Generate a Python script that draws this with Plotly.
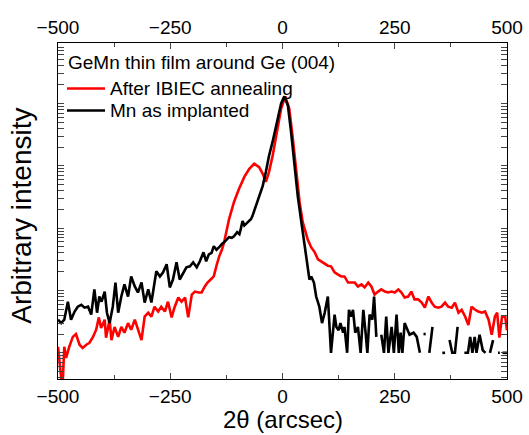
import plotly.graph_objects as go

# ---- data (2theta in arcsec, intensity in counts) ----
red_x = [-500, -493, -489, -486, -482, -475, -467, -460, -452, -445, -437, -430, -422, -415, -409, -404,
         -396, -393, -385, -381, -374, -366, -359, -352, -344, -337, -329, -322, -314, -307, -299, -292,
         -285, -277, -270, -262, -255, -247, -240, -232, -225, -217, -210, -202, -195, -187, -180, -173,
         -167, -160, -153, -147, -141, -135, -130, -119, -108, -97, -85, -74, -63, -52, -44, -37, -30,
         -22, -12, -3, 6, 15, 23, 30, 38, 45, 56, 64, 71, 79, 85, 94, 101, 108, 116, 123, 131, 138, 146,
         153, 161, 168, 176, 183, 191, 198, 205, 213, 220, 228, 235, 243, 250, 258, 265, 272, 280, 287,
         294, 302, 310, 317, 325, 332, 339, 347, 354, 362, 369, 377, 384, 392, 399, 407, 414, 421, 429,
         436, 444, 451, 459, 466, 473, 478, 483, 489, 496, 500]
red_y = [12.5, 4, 4, 12.5, 8.3, 12.5, 18, 20, 13.5, 12, 13.5, 14.5, 18, 23.5, 37, 25,
         34, 17.5, 34, 16, 26, 18, 26, 21, 30, 23.5, 34, 23.5, 16, 38, 44, 38,
         55, 46, 55, 46, 66, 37, 55, 77, 66, 77, 37, 86, 96, 93, 93, 116,
         134, 150, 168, 250, 353, 450, 594, 1400, 2630, 4250, 6650, 8950, 10800, 9500, 7430, 5520, 8000,
         14500, 35300, 83000, 130000, 83000, 27200, 8000, 2630, 1250, 665, 490, 420, 316, 294, 263, 250,
         244, 195, 181, 168, 168, 134,
         134, 134, 116, 125, 112, 134, 116, 86, 96, 104, 96, 93, 96, 93, 104, 93, 77, 80, 96,
         72, 72, 64, 53, 80, 64, 55, 53, 55, 64, 55, 53, 64, 44, 49, 38, 28, 55, 49,
         46, 44, 46, 34, 19.5, 38, 44, 17.5, 38, 38, 23]

blk_x = [-500, -493, -486, -478, -471, -463, -456, -448, -441, -433, -426, -419, -413, -408, -403, -396,
         -391, -385, -378, -372, -366, -359, -352, -344, -337, -329, -322, -314, -307, -299, -292, -285,
         -281, -273, -266, -258, -251, -244, -236, -229, -221, -214, -206, -199, -191, -184, -176, -170,
         -164, -158, -153, -147, -141, -135, -130, -124, -119, -113, -108, -101, -96, -93, -89, -85, -82,
         -78, -74, -70, -67, -59, -52, -44, -37, -30, -22, -12, -3, 4, 12, 19, 27, 34, 42, 49, 55, 60,
         64, 70, 75, 82, 88, 94, 101, 108, 116, 120, 125, 129, 135, 138, 144, 148, 153, 157, 162, 168,
         174, 180, 185, 189, 194, 200, 204, 209, 214, 220, 226, 231, 236, 243, 248, 254, 259, 263, 267,
         272, 278, 283, 292, 299, 306, 310, 314, 319, 323, 327, 334, 338, 356, 362, 366, 372, 378, 384,
         390, 394, 405, 413, 418, 423, 428, 432, 439, 446, 452, 456, 462, 469, 473, 480, 484, 487, 490, 500]
blk_y = [34, 30, 34, 66, 34, 46, 55, 59, 53, 55, 41, 104, 44, 80, 66, 96,
         44, 30, 55, 134, 44, 80, 125, 80, 168, 116, 93, 134, 64, 104, 64, 150,
         203, 168, 195, 263, 112, 150, 283, 150, 195, 235, 244, 283, 235, 294, 410, 294,
         380, 400, 512, 450, 494, 560, 594, 650, 716, 700, 743, 861, 800, 964, 1300, 1100, 1160,
         1250, 1300, 1400, 1560, 2260, 3280, 4760, 8000, 14500, 24400, 51300, 100000, 130000, 93000,
         35300, 10000, 3280, 1250, 512, 244, 150,
         168, 134, 80, 55, 30, 44, 80, 10, 41, 26, 23, 30, 21, 26, 10, 49, 38, 49, 21, 26,
         10, 49, 21, 10, 41, 34, 80, 18, None, 19.5, 10, 38, 10, 26, 10, 41, 10, 21, 10,
         30, 23, 19.5, 21, 18, 10, None, 20, 20, None, 10, 26, None, 10, 10, None, 16, 10, 10,
         26, None, 10, 10, 18, 10, 18, 10, 19.5, 11, 10, None, 10, 16, None, 10, 10, None, 10, 10]

x_ticks = [-500, -250, 0, 250, 500]
legend_title = "GeMn thin film around Ge (004)"
red_name = "After IBIEC annealing"
blk_name = "Mn as implanted"

FONT = "Arial, Liberation Sans, sans-serif"
RED = "#ff0000"

fig = go.Figure()
fig.add_trace(go.Scatter(x=red_x, y=red_y, mode="lines", name=red_name,
                         line=dict(color=RED, width=2.6), showlegend=False))
fig.add_trace(go.Scatter(x=blk_x, y=blk_y, mode="lines", name=blk_name,
                         line=dict(color="#000000", width=2.6), connectgaps=False, showlegend=False))
# invisible trace to carry the top axis
fig.add_trace(go.Scatter(x=[x_ticks[0], x_ticks[-1]], y=[10, 10], xaxis="x2", mode="lines",
                         line=dict(width=0), showlegend=False, hoverinfo="skip"))

# legend drawn as text + line samples inside the plot (tight spacing as in the reference)
leg_rows = [(red_name, RED, 0.8646), (blk_name, "black", 0.799)]
annotations = [dict(text=legend_title, x=0.0178, y=0.9405, xref="paper", yref="paper",
                    xanchor="left", yanchor="middle", showarrow=False, font=dict(size=19))]
shapes = []
for name, col, yy in leg_rows:
    annotations.append(dict(text=name, x=0.1114, y=yy, xref="paper", yref="paper",
                            xanchor="left", yanchor="middle", showarrow=False, font=dict(size=19)))
    shapes.append(dict(type="line", xref="paper", yref="paper", x0=0.020, x1=0.1047, y0=yy, y1=yy,
                       line=dict(color=col, width=2.6)))
# axis titles
annotations.append(dict(text="2θ (arcsec)", x=0.5, y=-0.1637, xref="paper", yref="paper",
                        xanchor="center", yanchor="bottom", showarrow=False, font=dict(size=24),
                        borderpad=0))
annotations.append(dict(text="Arbitrary intensity", x=-0.083, y=0.485, xref="paper", yref="paper",
                        xanchor="center", yanchor="middle", showarrow=False, textangle=-90,
                        font=dict(size=28)))

fig.update_layout(
    width=529, height=435,
    margin=dict(l=58, r=22, t=43, b=56, autoexpand=False),
    paper_bgcolor="white", plot_bgcolor="white",
    font=dict(family=FONT, size=19, color="black"),
    showlegend=False,
    annotations=annotations, shapes=shapes,
    xaxis=dict(range=[-500, 500], tickvals=x_ticks, ticks="inside", ticklen=6, tickwidth=1.3,
               showline=True, linecolor="black", linewidth=1.3, mirror="allticks",
               showgrid=False, zeroline=False, automargin=False, ticklabelstandoff=0,
               minor=dict(dtick=125, tick0=0, ticks="inside", ticklen=4, tickwidth=1.3),
               tickfont=dict(size=19)),
    xaxis2=dict(range=[-500, 500], tickvals=x_ticks, overlaying="x", side="top", anchor="y",
                ticks="", showline=False, showgrid=False, zeroline=False, automargin=False,
                ticklabelstandoff=4, tickfont=dict(size=19)),
    yaxis=dict(type="log", range=[0.58, 5.97], dtick=1, ticks="inside", ticklen=6, tickwidth=1.3,
               showticklabels=False, showline=True, linecolor="black", linewidth=1.3,
               mirror="allticks", showgrid=False, zeroline=False, automargin=False,
               minor=dict(dtick="D1", ticks="inside", ticklen=3, tickwidth=1)),
)

fig.write_html("out.html", config={"displayModeBar": False},
               post_script="document.body.style.margin='0';")
